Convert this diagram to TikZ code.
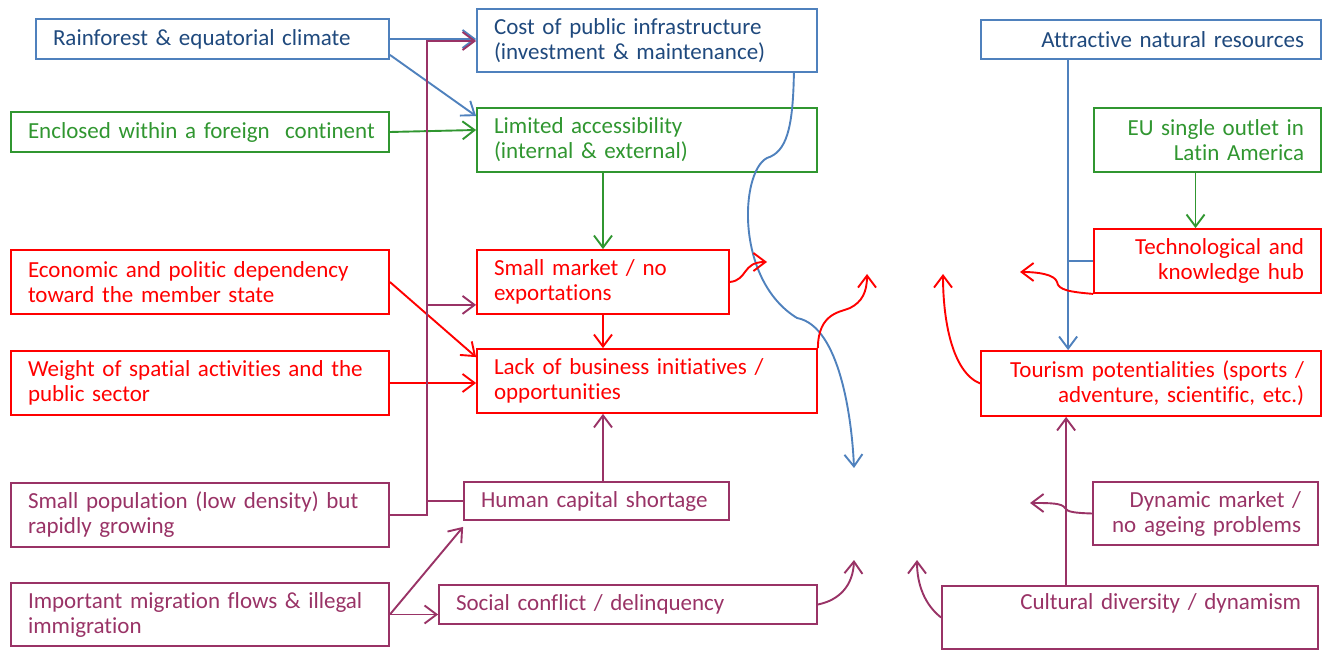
\documentclass[tikz,border=0pt]{standalone}
\usepackage{fontspec}
\setmainfont{Carlito}[Ligatures=NoCommon]
\usetikzlibrary{arrows.meta,calc}
\definecolor{bbord}{RGB}{79,129,189}
\definecolor{btext}{RGB}{31,73,125}
\definecolor{gr}{RGB}{48,150,48}
\definecolor{rd}{RGB}{255,0,0}
\definecolor{pu}{RGB}{153,51,102}
\newcommand\mybox[8]{%
 \pgfmathsetmacro\mbw{(#6-#4)*0.5}%
 \pgfmathsetmacro\mbh{(#7-#5)*0.5}%
 \pgfmathsetmacro\mbt{(#6-#4)*0.5-17}%
 \node[#2,align=#3,minimum width=\mbw pt,minimum height=\mbh pt,text width=\mbt pt] (#1) at ({(#4+#6)/2},{(#5+#7)/2}) {#8};}
\begin{document}
\begin{tikzpicture}[x=0.5pt,y=-0.5pt,
  bx/.style={draw,rectangle,line width=0.9pt,inner xsep=8.5pt,inner ysep=0pt,font=\fontsize{11.5}{12.5}\selectfont},
  bbox/.style={bx,draw=bbord,text=btext},
  gbox/.style={bx,draw=gr,text=gr},
  rbox/.style={bx,draw=rd,text=rd},
  pbox/.style={bx,draw=pu,text=pu},
  ln/.style={line width=0.95pt},
  bl/.style={ln,draw=bbord},
  gl/.style={ln,draw=gr},
  rl/.style={ln,draw=rd},
  pl/.style={ln,draw=pu},
  arr/.style={-{Straight Barb[length=6pt,width=9pt]}}]
\useasboundingbox (0,0) rectangle (1327,651);
% boxes
\mybox{rain}{bbox}{left}{36}{19}{389}{59}{Rainforest \& equatorial climate}
\mybox{encl}{gbox}{left}{11}{112}{389}{152}{\mbox{Enclosed within a foreign\ \ continent}}
\mybox{cost}{bbox}{left}{477}{9}{817}{72}{Cost of public infrastructure\\(investment \& maintenance)}
\mybox{lim}{gbox}{left}{477}{108}{817}{172}{Limited accessibility\\(internal \& external)}
\mybox{econ}{rbox}{left}{11}{250}{389}{314}{Economic and politic dependency\\toward the member state}
\mybox{weight}{rbox}{left}{11}{351}{389}{415}{Weight of spatial activities and the\\public sector}
\mybox{small}{rbox}{left}{477}{250}{729}{314}{Small market / no\\exportations}
\mybox{lack}{rbox}{left}{477}{349}{817}{413}{Lack of business initiatives /\\opportunities}
\mybox{pop}{pbox}{left}{11}{483}{389}{547}{Small population (low density) but\\rapidly growing}
\mybox{migr}{pbox}{left}{11}{583}{389}{646}{Important migration flows \& illegal\\immigration}
\mybox{human}{pbox}{left}{464}{482}{729}{520}{Human capital shortage}
\mybox{social}{pbox}{left}{439}{585}{817}{624}{Social conflict / delinquency}
\mybox{attr}{bbox}{right}{981}{20}{1321}{59}{Attractive natural resources}
\mybox{eu}{gbox}{right}{1094}{108}{1321}{172}{EU single outlet in\\Latin America}
\mybox{tech}{rbox}{right}{1094}{229}{1321}{293}{Technological and\\knowledge hub}
\mybox{tour}{rbox}{right}{981}{351}{1321}{416}{\mbox{Tourism potentialities (sports /}\\adventure, scientific, etc.)}
\mybox{dyn}{pbox}{right}{1093}{482}{1318}{545}{Dynamic market /\\no ageing problems}
\mybox{cult}{pbox}{right}{942}{586}{1318}{649}{Cultural diversity / dynamism\\\strut}
% free ends
\coordinate (tr) at (427,41);
\coordinate (t1) at (767,262);
\coordinate (t2) at (867,274);
\coordinate (t3) at (943,274);
\coordinate (t4) at (1020,272);
\coordinate (t5) at (854,468);
\coordinate (t6) at (854,560);
\coordinate (t7) at (917,560);
\coordinate (t8) at (1030,503);
% blue
\draw[bl,arr] (rain.east) -- (rain.east -| cost.west);
\draw[bl,arr] ($(rain.south east)+(0,-5)$) -- ($(lim.north west)+(0,9)$);
\draw[bl,arr] ($(cost.south east)+(-24,0)$) .. controls (793,130) and (786,152) .. (767,158)
  .. controls (740,172) and (735,280) .. (797,318)
  .. controls (840,326) and (852,420) .. (t5);
\draw[bl,arr] ($(attr.south west)+(88,0)$) -- ($(tour.north west)+(88,0)$);
\draw[bl] (tech.west) -- ++(-25,0);
% green
\draw[gl,arr] (encl.east) -- ($(lim.west)+(0,-10)$);
\draw[gl,arr] (small.north |- lim.south) -- (small.north);
\draw[gl,arr] ($(eu.south)+(-12,0)$) -- ($(tech.north)+(-12,0)$);
% red
\draw[rl,arr] (econ.east) -- ($(lack.north west)+(0,9)$);
\draw[rl,arr] (weight.east) -- (weight.east -| lack.west);
\draw[rl,arr] (small.south) -- (small.south |- lack.north);
\draw[rl,arr] (small.east) .. controls (748,280) and (742,262) .. (t1);
\draw[rl,arr] (lack.north east) .. controls (818,312) and (842,312) .. (850,308) .. controls (862,302) and (867,292) .. (t2);
\draw[rl,arr] (tour.west) .. controls (952,372) and (943,320) .. (t3);
\draw[rl,arr] (tech.south west) .. controls (1070,292) and (1058,290) .. (1057,282) .. controls (1055,275) and (1040,272) .. (t4);
% purple
\draw[pl,arr] (pop.east) -| (tr) -- (tr -| cost.west);
\draw[pl,arr] ($(small.south west)+(-50,-10)$) -- ($(small.south west)+(0,-10)$);
\draw[pl] (human.west -| tr) -- (human.west);
\draw[pl,arr] (human.north -| small.south) -- (lack.south -| small.south);
\draw[pl,arr] (migr.east) -- ($(human.south west)+(0,6)$);
\draw[pl,arr] (migr.east) -- (migr.east -| social.west);
\draw[pl,arr] (social.east) .. controls (840,600) and (853,585) .. (t6);
\draw[pl,arr] (cult.west) .. controls (925,605) and (917,585) .. (t7);
\draw[pl,arr] ($(cult.north west)+(125,0)$) -- ($(tour.south west)+(86,0)$);
\draw[pl,arr] (dyn.west) .. controls (1075,513) and (1067,512) .. (1065,508) .. controls (1062,503) and (1050,503) .. (t8);
\end{tikzpicture}
\end{document}
